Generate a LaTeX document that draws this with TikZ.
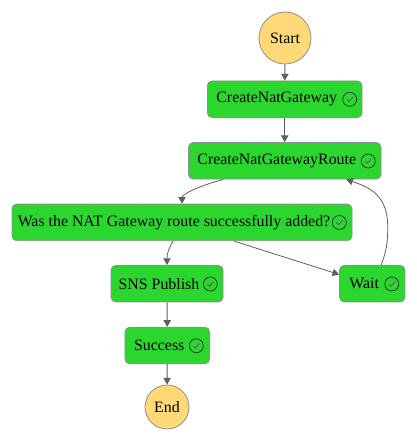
\documentclass[tikz,border=0pt]{standalone}
\usepackage{fontspec}
\setmainfont{Liberation Serif}
\usetikzlibrary{arrows.meta,calc}
\definecolor{stategreen}{HTML}{2BD62E}
\definecolor{terminal}{HTML}{FFD877}
\definecolor{edgegray}{HTML}{5F5F5F}
\definecolor{bordergray}{HTML}{8F8F8F}
\tikzset{
  statebox/.style={draw=bordergray,line width=0.6pt,fill=stategreen,rounded corners=3.5pt,
    inner sep=0pt,minimum height=27.4pt,text=black,font=\fontsize{11.9}{14}\selectfont},
  terminalnode/.style={draw=bordergray,line width=0.6pt,fill=terminal,circle,inner sep=0pt,
    text=black,font=\fontsize{11.9}{14}\selectfont},
  okicon/.style={draw=black!85,line width=0.5pt,circle,inner sep=0pt,minimum size=10.5pt},
  tick/.style={draw=edgegray,line width=0.65pt},
  edge/.style={draw=edgegray,line width=0.75pt,-{Triangle[length=5pt,width=5.5pt]}},
  curveedge/.style={edge,line width=0.6pt}
}
\newcommand{\lab}[1]{#1\hspace*{12pt}\null}
\newcommand{\tickin}[1]{\draw[tick] ($(#1.center)+(-2.8,0.2)$) -- ($(#1.center)+(-0.8,2.2)$) -- ($(#1.center)+(3.2,-2.2)$);}
\begin{document}
\begin{tikzpicture}[x=0.75pt,y=-0.75pt]
\useasboundingbox (0,0) rectangle (417,442);
\node[terminalnode,minimum size=39pt] (start) at (285,38) {Start};
\node[statebox,minimum width=116pt] (cng) at (284.75,99.2) {\lab{CreateNatGateway}};
\node[statebox,minimum width=144.4pt] (route) at (284.75,160.8) {\lab{CreateNatGatewayRoute}};
\node[statebox,minimum width=255pt] (was) at (182,222.4) {\lab{Was the NAT Gateway route successfully added?}};
\node[statebox,minimum width=84pt] (sns) at (167,283.7) {\lab{SNS Publish}};
\node[statebox,minimum width=49pt] (wait) at (372.25,283.7) {\lab{Wait}};
\node[statebox,minimum width=63.4pt] (success) at (167.25,345.5) {\lab{Success}};
\node[terminalnode,minimum size=33pt] (end) at (167,407) {End};
\node[okicon] (i1) at (349.7,99.3) {};
\node[okicon] (i2) at (368.2,161) {};
\node[okicon] (i3) at (339.3,222.5) {};
\node[okicon] (i4) at (210.3,284) {};
\node[okicon] (i5) at (391.8,284) {};
\node[okicon] (i6) at (196.3,345.7) {};
\tickin{i1}\tickin{i2}\tickin{i3}\tickin{i4}\tickin{i5}\tickin{i6}
\draw[edge] (start.south) -- (cng.north);
\draw[edge] (cng.south) -- (route.north);
\draw[curveedge] ($(route.south)+(-61.5,0)$) .. controls ($(route.south)+(-88,7)$) and ($(was.north)+(0,-9)$) .. (was.north);
\draw[curveedge] ($(was.south)+(-9,0)$) .. controls ($(was.south)+(-13,7)$) and ($(sns.north)+(0,-12)$) .. (sns.north);
\draw[curveedge] ($(was.south)+(52,0)$) -- ($(wait.west)+(0,-9.2)$);
\draw[curveedge] ($(wait.north)+(9,0)$) .. controls ($(wait.north)+(14,-14)$) and ($(wait.north)+(15.5,-22)$) .. ($(wait.north)+(15.5,-38)$) .. controls ($(wait.north)+(15.5,-70)$) and ($(route.south)+(85,8)$) .. ($(route.south)+(61.5,0)$);
\draw[edge] (sns.south) -- (success.north);
\draw[edge] (success.south) -- (end.north);
\end{tikzpicture}
\end{document}
